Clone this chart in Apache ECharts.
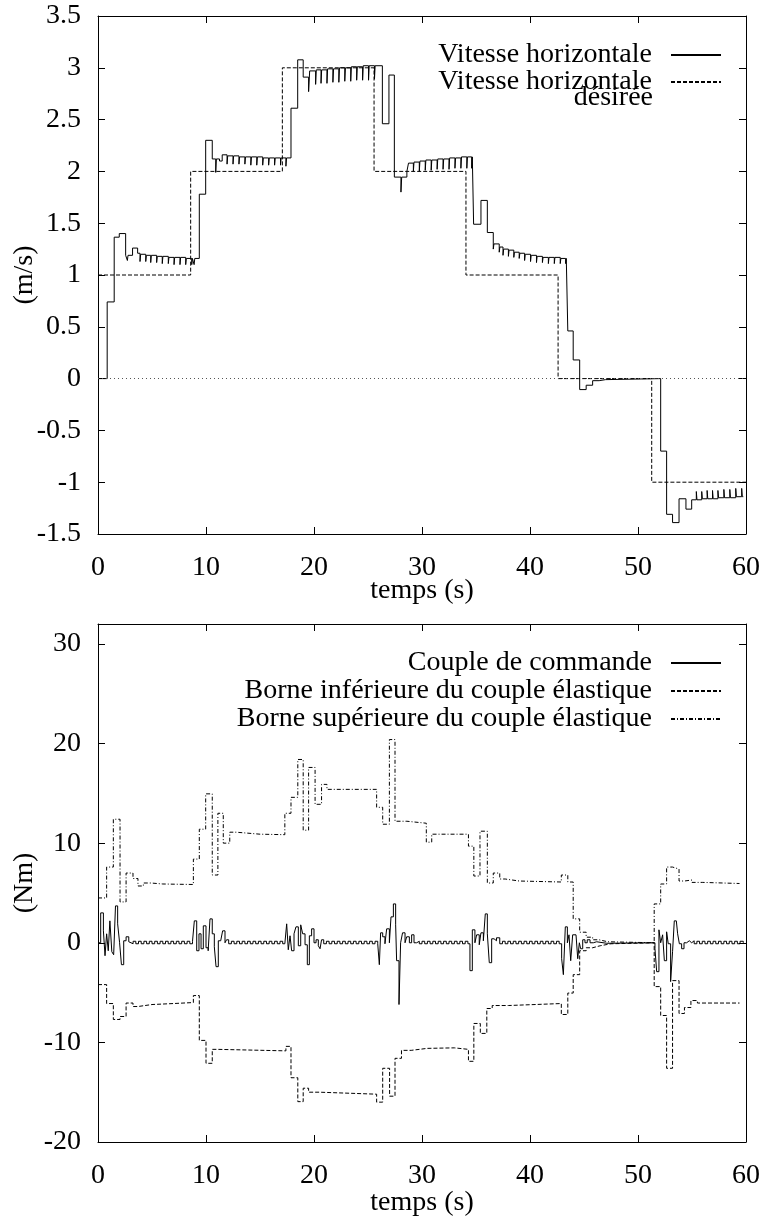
<!DOCTYPE html>
<html>
<head>
<meta charset="utf-8">
<title>Vitesse horizontale / couple</title>
<script src="https://cdn.jsdelivr.net/npm/echarts@6/dist/echarts.min.js"></script>
<style>
  html, body { margin: 0; padding: 0; background: #fff; }
  #chart { width: 764px; height: 1217px; }
</style>
</head>
<body>
<div id="chart"></div>
<script>
// valeurs : [temps (s), valeur], tenues jusqu'au point suivant
var xTicks = [0, 10, 20, 30, 40, 50, 60]

var vitesse = [
  [0, 0], [0.85, 0.74], [1.5, 1.365], [1.97, 1.40], [2.56, 1.19], [2.72, 1.14], [2.78, 1.19],
  [3.2, 1.26], [3.67, 1.21],
  [3.89, 1.13], [3.95, 1.20], [4.42, 1.13], [4.48, 1.19], [4.88, 1.12], [4.94, 1.19],
  [5.43, 1.12], [5.49, 1.18], [5.95, 1.11], [6.01, 1.18], [6.51, 1.11], [6.57, 1.17],
  [7.04, 1.10], [7.1, 1.17], [7.59, 1.10], [7.65, 1.17], [8.12, 1.10], [8.18, 1.16],
  [8.68, 1.10], [8.74, 1.16], [8.9, 1.10], [8.96, 1.16],
  [9.38, 1.78], [9.97, 2.30], [10.58, 2.12], [10.9, 1.99], [10.96, 2.12], [11.25, 2.10], [11.5, 2.16],
  [11.95, 2.07], [12.01, 2.15], [12.5, 2.07], [12.56, 2.15], [13.05, 2.07], [13.11, 2.14],
  [13.6, 2.07], [13.66, 2.14], [14.15, 2.06], [14.21, 2.14], [14.7, 2.06], [14.76, 2.14],
  [15.25, 2.06], [15.31, 2.13], [15.8, 2.06], [15.86, 2.13], [16.35, 2.06], [16.41, 2.13],
  [16.9, 2.06], [16.96, 2.13], [17.4, 2.05], [17.46, 2.13],
  [17.87, 2.61], [18.49, 3.077], [19.0, 2.91], [19.5, 2.77], [19.6, 2.97],
  [20.15, 2.84], [20.21, 2.98], [20.65, 2.85], [20.71, 2.98], [21.2, 2.85], [21.26, 2.99],
  [21.75, 2.86], [21.81, 2.99], [22.3, 2.86], [22.36, 3.0], [22.85, 2.87], [22.91, 3.0],
  [23.4, 2.87], [23.46, 3.01], [23.95, 2.88], [24.01, 3.01], [24.5, 2.88], [24.56, 3.02],
  [25.05, 2.88], [25.11, 3.02], [25.6, 2.89], [25.66, 3.02],
  [26.33, 2.46], [26.94, 2.93], [27.44, 1.945], [28.05, 1.80], [28.12, 1.945], [28.6, 2.0], [28.75, 2.08],
  [29.2, 2.0], [29.26, 2.09], [29.75, 2.0], [29.81, 2.1], [30.3, 2.01], [30.36, 2.11],
  [30.85, 2.01], [30.91, 2.11], [31.4, 2.02], [31.46, 2.12], [31.95, 2.02], [32.01, 2.12],
  [32.5, 2.02], [32.56, 2.13], [33.05, 2.03], [33.11, 2.13], [33.6, 2.03], [33.66, 2.14],
  [34.15, 2.03], [34.21, 2.14], [34.6, 2.03], [34.66, 2.14],
  [34.78, 1.49], [35.46, 1.72], [36.05, 1.41], [36.6, 1.25], [36.66, 1.30], [37.15, 1.22], [37.21, 1.27],
  [37.5, 1.19], [37.56, 1.25], [38.0, 1.18], [38.06, 1.24], [38.5, 1.17], [38.56, 1.22],
  [39.0, 1.16], [39.06, 1.21], [39.5, 1.14], [39.56, 1.20], [40.05, 1.13], [40.11, 1.19],
  [40.6, 1.12], [40.66, 1.18], [41.15, 1.12], [41.21, 1.17], [41.7, 1.11], [41.76, 1.17],
  [42.25, 1.11], [42.31, 1.17], [42.8, 1.11], [42.86, 1.16], [43.3, 1.11], [43.36, 1.16],
  [43.5, 0.46], [44.0, 0.18], [44.6, -0.106], [45.2, -0.064], [45.8, -0.02], [46.4, -0.01], [47, 0],
  [52.1, -0.70], [52.65, -1.31], [53.2, -1.39], [53.8, -1.16], [54.44, -1.26], [54.97, -1.17],
  [55.4, -1.09], [55.46, -1.17], [55.9, -1.09], [55.96, -1.16], [56.4, -1.08], [56.46, -1.16],
  [56.9, -1.08], [56.96, -1.16], [57.4, -1.08], [57.46, -1.15], [57.95, -1.07], [58.01, -1.15],
  [58.5, -1.07], [58.56, -1.15], [59.05, -1.06], [59.11, -1.14], [59.6, -1.06], [59.66, -1.14],
  [59.75, -1.14]
]

var vitesseDesiree = [
  [0, 1], [8.58, 2], [17.07, 3], [25.56, 2], [34.07, 1], [42.6, 0], [51.27, -1], [60, -1]
]

var coupleCommande = [
  [0, 0], [0.25, 3.0], [0.5, 1.2], [0.65, -1.3], [0.8, 0.9], [0.95, -0.8], [1.1, 2.2], [1.28, -0.9],
  [1.45, -1.2], [1.62, 3.7], [1.82, 1.9], [2.0, 0.0], [2.17, -2.2], [2.38, 0.2], [2.6, 0.6], [2.85, 0.1],
  [3.0, -0.1], [3.25, 0.15], [3.5, -0.1], [3.75, 0.15], [4.0, -0.1], [4.25, 0.15], [4.5, -0.1],
  [4.75, 0.15], [5.0, -0.1], [5.25, 0.15], [5.5, -0.1], [5.75, 0.15], [6.0, -0.1], [6.25, 0.15],
  [6.5, -0.1], [6.75, 0.15], [7.0, -0.1], [7.25, 0.15], [7.5, -0.1], [7.75, 0.15], [8.0, -0.1],
  [8.25, 0.15], [8.5, -0.1], [8.75, 0.15],
  [8.92, 2.2], [9.14, -0.8], [9.35, 0.9], [9.54, -0.6], [9.75, 1.7], [10.0, -0.5], [10.2, -0.8],
  [10.37, 2.4], [10.58, 0.9], [10.77, -0.4], [10.93, -2.4], [11.14, 0.2], [11.36, 0.4], [11.54, 1.2],
  [11.76, 0.0], [11.9, 0.3],
  [12.1, -0.1], [12.35, 0.15], [12.6, -0.1], [12.85, 0.15], [13.1, -0.1], [13.35, 0.15], [13.6, -0.1],
  [13.85, 0.15], [14.1, -0.1], [14.35, 0.15], [14.6, -0.1], [14.85, 0.15], [15.1, -0.1], [15.35, 0.15],
  [15.6, -0.1], [15.85, 0.15], [16.1, -0.1], [16.35, 0.15], [16.6, -0.1], [16.85, 0.15], [17.1, -0.1],
  [17.3, 0.1],
  [17.47, 1.9], [17.62, -0.7], [17.78, 0.7], [17.93, -0.8], [18.15, 0.9], [18.33, 1.6], [18.55, -0.3],
  [18.77, 1.8], [18.95, 0.9], [19.17, -0.2], [19.38, -2.2], [19.57, 0.7], [19.78, 1.4], [20.0, 0.0],
  [20.19, 0.3], [20.4, -0.3], [20.56, -0.6], [20.7, 0.3],
  [20.9, -0.1], [21.15, 0.15], [21.4, -0.1], [21.65, 0.15], [21.9, -0.1], [22.15, 0.15], [22.4, -0.1],
  [22.65, 0.15], [22.9, -0.1], [23.15, 0.15], [23.4, -0.1], [23.65, 0.15], [23.9, -0.1], [24.15, 0.15],
  [24.4, -0.1], [24.65, 0.15], [24.9, -0.1], [25.15, 0.15], [25.4, -0.1], [25.65, 0.15], [25.9, -0.1],
  [26.05, -2.2], [26.17, 1.0], [26.36, 0.6], [26.57, -0.1], [26.73, 1.4], [26.98, 0.0], [27.13, 2.6],
  [27.35, 3.9], [27.56, 1.8], [27.65, -1.8], [27.87, -6.2], [28.02, 0.0], [28.2, 1.0], [28.43, 0.0],
  [28.58, 0.6], [28.83, 0.0], [29.04, 0.8], [29.26, 0.0],
  [29.5, 0.15], [29.75, -0.1], [30.0, 0.15], [30.25, -0.1], [30.5, 0.15], [30.75, -0.1], [31.0, 0.15],
  [31.25, -0.1], [31.5, 0.15], [31.75, -0.1], [32.0, 0.15], [32.25, -0.1], [32.5, 0.15], [32.75, -0.1],
  [33.0, 0.15], [33.25, -0.1], [33.5, 0.15], [33.75, -0.1], [34.0, 0.15], [34.25, -0.1],
  [34.44, -2.8], [34.66, 1.3], [34.9, 0.0], [35.06, 0.8], [35.3, -0.2], [35.46, 1.0], [35.68, 0.2],
  [35.86, 2.9], [36.05, 0.9], [36.23, -2.0], [36.45, 0.4], [36.67, 0.2], [36.9, 0.5],
  [37.2, -0.1], [37.45, 0.15], [37.7, -0.1], [37.95, 0.15], [38.2, -0.1], [38.45, 0.15], [38.7, -0.1],
  [38.95, 0.15], [39.2, -0.1], [39.45, 0.15], [39.7, -0.1], [39.95, 0.15], [40.2, -0.1], [40.45, 0.15],
  [40.7, -0.1], [40.95, 0.15], [41.2, -0.1], [41.45, 0.15], [41.7, -0.1], [41.95, 0.15], [42.2, -0.1],
  [42.45, 0.15], [42.7, -0.1],
  [42.93, -1.6], [43.09, -3.2], [43.27, 1.6], [43.46, 0.0], [43.61, 0.8], [43.77, -1.8], [43.95, 0.8],
  [44.26, 0.9], [44.42, -1.6], [44.57, 0.0], [44.69, -0.6], [44.88, 0.3], [45.09, 0.0], [45.3, 0.3],
  [45.56, 0.0], [45.86, 0.1], [46.17, -0.05], [47.1, 0],
  [51.57, -0.6], [51.73, -2.9], [51.94, 1.3], [52.1, 0.0], [52.28, 0.8], [52.44, -1.8], [52.65, 1.1],
  [52.8, -0.1], [53.02, -3.9], [53.2, -0.9], [53.36, 2.2], [53.55, 2.1], [53.67, 0.9], [53.83, -0.1],
  [54.04, -0.6], [54.26, 0.0], [54.5, 0.2], [54.75, 0.0], [54.97, 0.2],
  [55.2, -0.1], [55.45, 0.15], [55.7, -0.1], [55.95, 0.15], [56.2, -0.1], [56.45, 0.15], [56.7, -0.1],
  [56.95, 0.15], [57.2, -0.1], [57.45, 0.15], [57.7, -0.1], [57.95, 0.15], [58.2, -0.1], [58.45, 0.15],
  [58.7, -0.1], [58.95, 0.15], [59.2, -0.1], [59.45, 0.15], [59.75, 0]
]

var borneInf = [
  [0, -4.2], [0.8, -6.1], [1.42, -7.7], [2.04, -7.4], [2.6, -6.05], [3.24, -6.4], [3.7, -6.2],
  [5, -6.1], [7, -6.0], [8.83, -5.3], [9.38, -9.8], [10.0, -12.1], [10.58, -10.7], [11.1, -10.85],
  [17.4, -10.4], [17.87, -13.55], [18.5, -15.95], [19.0, -14.6], [19.5, -15.0], [20.5, -15.2],
  [25.8, -16.0], [26.36, -12.6], [27.0, -15.4], [27.5, -11.6], [28.1, -10.8], [29, -10.6],
  [30.5, -10.55], [33, -10.7], [34.3, -11.9], [34.8, -8.1], [35.4, -9.1], [36.0, -6.6], [36.5, -6.3],
  [38, -6.1], [42.9, -7.2], [43.5, -5.05], [44.0, -3.2], [44.6, -0.8], [45.2, -0.5], [45.8, -0.3],
  [46.5, -0.1], [47.5, 0], [51.5, -4.4], [52.1, -7.3], [52.65, -12.6], [53.2, -3.8], [53.8, -7.1],
  [54.3, -6.5], [54.9, -5.8], [55.5, -6.05], [59.4, -6.05]
]

var borneSup = [
  [0, 4.5], [0.8, 7.6], [1.42, 12.4], [2.04, 4.1], [2.6, 7.0], [3.24, 6.45], [3.7, 5.7], [4.2, 6.0],
  [4.9, 5.9], [6, 5.85], [8.83, 8.4], [9.38, 11.4], [9.97, 14.95], [10.58, 6.8], [11.1, 13.0],
  [11.6, 10.0], [12.2, 11.1], [12.8, 10.9], [15, 10.85], [17.3, 13.0], [17.87, 14.6], [18.5, 18.4],
  [19.0, 11.3], [19.5, 17.6], [20.1, 13.9], [20.7, 15.9], [21.2, 15.4], [25.8, 13.6], [26.36, 11.9],
  [26.98, 20.4], [27.5, 12.2], [28.6, 12.0], [30.4, 10.1], [30.9, 10.9], [34.3, 9.7], [34.8, 6.7],
  [35.37, 11.2], [36.05, 6.0], [36.6, 7.0], [37.2, 6.4], [37.7, 6.2], [39, 6.1], [42.9, 6.8],
  [43.5, 6.1], [44.0, 2.4], [44.6, 1.06], [45.2, 0.56], [45.8, 0.3], [46.4, 0.1], [47.2, 0],
  [51.5, 3.9], [52.1, 5.9], [52.65, 7.6], [53.2, 7.4], [53.8, 6.2], [54.3, 6.3], [55, 6.06],
  [56, 5.95], [59.4, 5.9]
]

var FONT = "'Liberation Serif', 'Times New Roman', serif"
var FS = 28

function xAxe (grid, mirror, nameGap) {
  return {
    type: 'value', gridIndex: grid, min: xTicks[0], max: xTicks[xTicks.length - 1], interval: 10,
    position: mirror ? 'top' : 'bottom',
    name: mirror ? '' : 'temps (s)', nameLocation: 'middle', nameGap: nameGap, nameMoveOverlap: false,
    nameTextStyle: { fontFamily: FONT, fontSize: FS, color: '#000' },
    axisLine: { show: true, onZero: false, lineStyle: { color: '#000', width: 1 } },
    axisTick: { show: true, inside: true, length: 7, lineStyle: { color: '#000' } },
    axisLabel: { show: !mirror, margin: 20, fontFamily: FONT, fontSize: FS, color: '#000' },
    splitLine: { show: false }
  }
}

function yAxe (grid, mirror, min, max, step, name) {
  return {
    type: 'value', gridIndex: grid, min: min, max: max, interval: step,
    position: mirror ? 'right' : 'left',
    name: mirror ? '' : name, nameLocation: 'middle', nameGap: 59, nameMoveOverlap: false,
    nameTextStyle: { fontFamily: FONT, fontSize: FS, color: '#000' },
    axisLine: { show: true, onZero: false, lineStyle: { color: '#000', width: 1 } },
    axisTick: { show: true, inside: true, length: 7, lineStyle: { color: '#000' } },
    axisLabel: {
      show: !mirror, margin: 17, fontFamily: FONT, fontSize: FS, color: '#000',
      formatter: function (v) { return v > 31 ? '' : String(v) }
    },
    splitLine: { show: false }
  }
}

function courbe (name, data, grid, dash) {
  return {
    name: name, type: 'line', data: data, step: 'end',
    xAxisIndex: grid * 2, yAxisIndex: grid * 2,
    symbol: 'none', silent: true, animation: false,
    itemStyle: { color: '#000' },
    lineStyle: { color: '#000', width: 1, type: dash || 'solid' }
  }
}

function legende (name, top, extra) {
  var l = {
    data: [name], right: 42, top: top, orient: 'vertical', align: 'right',
    itemWidth: 50, itemHeight: 10, padding: 0, selectedMode: false,
    // pas de rond sur l'echantillon de trait
    itemStyle: { opacity: 0, borderWidth: 0 },
    textStyle: { fontFamily: FONT, fontSize: FS, color: '#000', lineHeight: 24, padding: [0, 14, 0, 0] }
  }
  return Object.assign(l, extra || {})
}

var desiree = courbe('Vitesse horizontale désirée', vitesseDesiree, 0, [4, 2])
desiree.markLine = {
  silent: true, symbol: ['none', 'none'], animation: false,
  label: { show: false },
  lineStyle: { color: '#555', width: 1, type: [1, 3] },
  data: [{ yAxis: 0 }]
}

var option = {
  backgroundColor: '#fff',
  animation: false,
  grid: [
    { left: 98, top: 16, width: 648, height: 518, outerBoundsMode: 'none' },
    { left: 98, top: 624, width: 648, height: 518, outerBoundsMode: 'none' }
  ],
  xAxis: [xAxe(0, false, 43), xAxe(0, true), xAxe(1, false, 47), xAxe(1, true)],
  yAxis: [
    yAxe(0, false, -1.5, 3.5, 0.5, '(m/s)'), yAxe(0, true, -1.5, 3.5, 0.5),
    yAxe(1, false, -20, 32, 10, '(Nm)'), yAxe(1, true, -20, 32, 10)
  ],
  legend: [
    legende('Vitesse horizontale', 41),
    legende('Vitesse horizontale désirée', 68, {
      formatter: function () { return 'Vitesse horizontale' }
    }),
    legende('Couple de commande', 649),
    legende('Borne inférieure du couple élastique', 677),
    legende('Borne supérieure du couple élastique', 705)
  ],
  // fin du libelle de la 2e entree, coupe sur deux lignes comme sur la figure
  graphic: [{
    type: 'text', x: 653, y: 98, silent: true,
    style: { text: 'désirée', align: 'right', verticalAlign: 'middle', fill: '#000',
      font: FS + "px 'Liberation Serif', serif" }
  }],
  series: [
    courbe('Vitesse horizontale', vitesse, 0),
    desiree,
    courbe('Borne inférieure du couple élastique', borneInf, 1, [4, 2]),
    courbe('Borne supérieure du couple élastique', borneSup, 1, [4, 2, 1, 2]),
    courbe('Couple de commande', coupleCommande, 1)
  ]
}

var chart = echarts.init(document.getElementById('chart'))
chart.setOption(option)
</script>
</body>
</html>
